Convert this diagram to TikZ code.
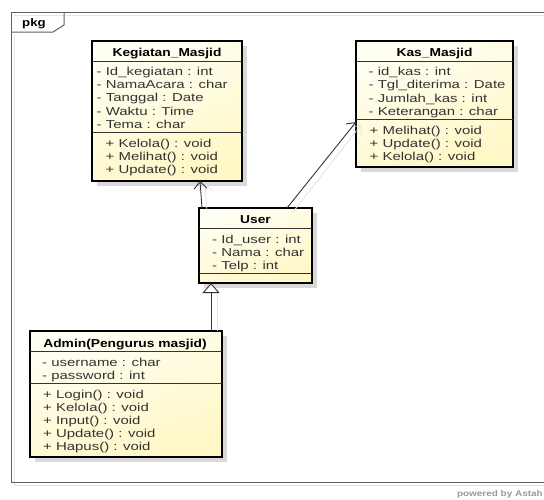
\documentclass[tikz,border=0pt]{standalone}
\usepackage{fontspec}
\setmainfont{Liberation Sans}
\newfontfamily\umlfont[FakeStretch=1.3]{Liberation Sans}
\newfontfamily\umlbold[FakeStretch=1.2]{Liberation Sans Bold}
\usetikzlibrary{arrows.meta,calc,shadows}
\definecolor{ctop}{HTML}{FFFFF4}
\definecolor{cbot}{HTML}{FFF7C6}
\definecolor{txtc}{HTML}{333333}
\definecolor{framec}{HTML}{5E5E5E}
\definecolor{connc}{HTML}{333333}
\definecolor{lightc}{HTML}{E4E4E4}
\begin{document}
\begin{tikzpicture}[x=1pt,y=-1pt,
  classbox/.style={draw=black, line width=1.8pt, inner sep=0pt, outer sep=0pt,
    anchor=north west, top color=ctop, bottom color=cbot, shading angle=20,
    drop shadow={shadow xshift=5pt, shadow yshift=-5pt, fill=black!15, opacity=1}},
  sepline/.style={draw=black!80, line width=0.9pt},
  txt/.style={font=\umlfont\fontsize{11.5}{13}\selectfont, text=txtc, inner sep=0pt, anchor=base west},
  ttl/.style={font=\umlbold\fontsize{11.5}{13}\selectfont, text=black, inner sep=0pt, anchor=base},
  conn/.style={draw=connc, line width=0.9pt},
  connshadow/.style={draw=lightc, line width=0.9pt},
  openarrow/.style={-{Straight Barb[length=7pt,width=13pt]}},
  genarrow/.style={-{Triangle[length=10pt,width=17pt,fill=white]}},
  framebox/.style={draw=framec, line width=1pt}
]
\useasboundingbox (0,0) rectangle (544,499);

% frame
\draw[lightc, line width=1pt] (14,485) -- (560,485);
\draw[lightc, line width=1pt] (14,15) -- (560,15);
\draw[lightc, line width=1pt] (14,35) -- (14,485);
\draw[framebox] (11,482) -- (11,12) -- (560,12);
\draw[framebox] (11,482) -- (560,482);
\draw[framebox] (11,32) -- (53,32) -- (64,25) -- (64,12);
\node[font=\umlbold\fontsize{11}{13}\selectfont, inner sep=0pt, anchor=base west] (pkg) at (22,26) {pkg};

% Kegiatan_Masjid
\node[classbox, minimum width=150pt, minimum height=140pt] (keg) at (92,41) {};
\draw[sepline] (keg.west |- 0,61) -- (keg.east |- 0,61);
\draw[sepline] (keg.west |- 0,132) -- (keg.east |- 0,132);
\node[ttl] (kegT) at (167,56) {Kegiatan\_Masjid};
\foreach \t [count=\i] in {{- Id\_kegiatan : int},{- NamaAcara : char},{- Tanggal : Date},{- Waktu : Time},{- Tema : char}}
  \node[txt] (kegA\i) at (96.5,{75.5+13.2*(\i-1)}) {\t};
\foreach \t [count=\i] in {{+ Kelola() : void},{+ Melihat() : void},{+ Update() : void}}
  \node[txt] (kegO\i) at (105.5,{147.8+12.6*(\i-1)}) {\t};

% Kas_Masjid
\node[classbox, minimum width=157pt, minimum height=126pt] (kas) at (356,41) {};
\draw[sepline] (kas.west |- 0,61) -- (kas.east |- 0,61);
\draw[sepline] (kas.west |- 0,119) -- (kas.east |- 0,119);
\node[ttl] (kasT) at (434.5,56) {Kas\_Masjid};
\foreach \t [count=\i] in {{- id\_kas : int},{- Tgl\_diterima : Date},{- Jumlah\_kas : int},{- Keterangan : char}}
  \node[txt] (kasA\i) at (368.5,{75.5+13.3*(\i-1)}) {\t};
\foreach \t [count=\i] in {{+ Melihat() : void},{+ Update() : void},{+ Kelola() : void}}
  \node[txt] (kasO\i) at (369.5,{134.5+12.8*(\i-1)}) {\t};

% User
\node[classbox, minimum width=113pt, minimum height=75pt] (user) at (199,208) {};
\draw[sepline] (user.west |- 0,228) -- (user.east |- 0,228);
\draw[sepline] (user.west |- 0,273) -- (user.east |- 0,273);
\node[ttl] (userT) at (255.5,223.5) {User};
\foreach \t [count=\i] in {{- Id\_user : int},{- Nama : char},{- Telp : int}}
  \node[txt] (userA\i) at (212,{243.5+13*(\i-1)}) {\t};

% Admin
\node[classbox, minimum width=192pt, minimum height=126pt] (admin) at (30,331) {};
\draw[sepline] (admin.west |- 0,351) -- (admin.east |- 0,351);
\draw[sepline] (admin.west |- 0,383) -- (admin.east |- 0,383);
\node[ttl] (adminT) at (125,347) {Admin(Pengurus masjid)};
\foreach \t [count=\i] in {{- username : char},{- password : int}}
  \node[txt] (adminA\i) at (42,{366.5+12.6*(\i-1)}) {\t};
\foreach \t [count=\i] in {{+ Login() : void},{+ Kelola() : void},{+ Input() : void},{+ Update() : void},{+ Hapus() : void}}
  \node[txt] (adminO\i) at (43,{398.5+12.9*(\i-1)}) {\t};

% connector shadows
\draw[connshadow, openarrow] ($(user.north west)+(8,4)$) -- ($(keg.south west)+(113,2)$);
\draw[connshadow, openarrow] ($(user.north west)+(94,4)$) -- ($(kas.north west)+(5,84)$);
\draw[connshadow] ($(admin.north west)+(187,0)$) -- ($(user.south west)+(18,4)$);

% connectors
\draw[conn, openarrow] ($(user.north west)+(3,0)$) -- ($(keg.south west)+(108,0)$);
\draw[conn, openarrow] ($(user.north west)+(88,0)$) -- ($(kas.north west)+(0,81)$);
\draw[conn, genarrow] ($(admin.north west)+(181,0)$) -- ($(user.south west)+(12,0)$);

\node[font=\umlbold\fontsize{8.3}{9}\selectfont, text=black!40, inner sep=0pt, anchor=base east] (pow) at (543,496) {powered by Astah};
\end{tikzpicture}
\end{document}
